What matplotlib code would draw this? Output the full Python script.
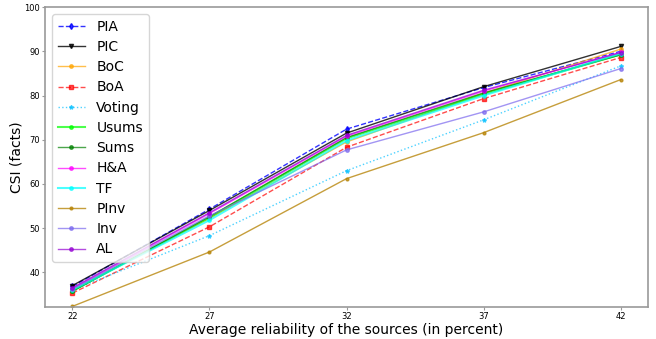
import matplotlib
matplotlib.use('Agg')
import matplotlib.pyplot as plt

reliability = [22, 27, 32, 37, 42]

pia    = [36.8, 54.3, 72.4, 81.8, 90.0]
pic    = [37.0, 54.0, 71.5, 82.0, 91.1]
boc    = [36.0, 52.2, 69.5, 80.5, 90.5]
boa    = [35.3, 50.3, 68.3, 79.3, 88.6]
voting = [36.0, 48.3, 63.0, 74.5, 86.7]
usums  = [35.8, 52.4, 70.3, 80.3, 89.3]
sums   = [35.7, 52.6, 70.5, 80.6, 89.2]
ha     = [36.3, 53.3, 70.8, 81.0, 89.8]
tf     = [36.0, 51.8, 69.8, 80.0, 89.5]
pinv   = [32.3, 44.6, 61.2, 71.6, 83.6]
inv    = [36.2, 52.8, 67.7, 76.3, 86.1]
al     = [36.5, 53.5, 71.0, 81.2, 89.7]

fig = plt.figure(figsize=(6.56, 3.39), dpi=100)
ax = fig.add_subplot(111)

ax.plot(reliability, pia, 'b--', marker='d', ms=3, lw=1, alpha=0.8, label='PIA')
ax.plot(reliability, pic, 'k-', marker='v', ms=3, lw=1, alpha=0.8, label='PIC')
ax.plot(reliability, boc, color='orange', ls='-', marker='o', ms=2.5, lw=1, alpha=0.7, label='BoC')
ax.plot(reliability, boa, 'r--', marker='s', ms=3, lw=1, alpha=0.7, label='BoA')
ax.plot(reliability, voting, color='deepskyblue', ls=':', marker='*', ms=3, lw=1, alpha=0.7, label='Voting')
ax.plot(reliability, usums, color='lime', ls='-', marker='o', ms=2.5, lw=1.5, alpha=0.7, label='Usums')
ax.plot(reliability, sums, color='green', ls='-', marker='o', ms=2.5, lw=1, alpha=0.7, label='Sums')
ax.plot(reliability, ha, color='magenta', ls='-', marker='o', ms=2.5, lw=1, alpha=0.7, label='H&A')
ax.plot(reliability, tf, color='cyan', ls='-', marker='o', ms=2.5, lw=1.5, alpha=0.7, label='TF')
ax.plot(reliability, pinv, color='darkgoldenrod', ls='-', marker='o', ms=2, lw=1, alpha=0.8, label='PInv')
ax.plot(reliability, inv, color='mediumslateblue', ls='-', marker='o', ms=2.5, lw=1, alpha=0.7, label='Inv')
ax.plot(reliability, al, color='darkviolet', ls='-', marker='o', ms=2.5, lw=1, alpha=0.7, label='AL')

ax.set_xticks(reliability)
ax.set_yticks([40, 50, 60, 70, 80, 90, 100])
ax.set_xlim(21, 43)
ax.set_ylim(32.2, 100)
ax.tick_params(labelsize=6, length=2, pad=1.5, color='#999999')
for s in ax.spines.values():
    s.set_color('#999999')
    s.set_linewidth(1.2)
ax.set_xlabel('Average reliability of the sources (in percent)', fontsize=10, labelpad=2)
ax.set_ylabel('CSI (facts)', fontsize=10, labelpad=1)
ax.legend(loc='upper left', fontsize=10, handlelength=2.0, labelspacing=0.45, borderpad=0.4)

fig.subplots_adjust(left=0.0686, right=0.988, top=0.979, bottom=0.095)
fig.savefig('out.png')
